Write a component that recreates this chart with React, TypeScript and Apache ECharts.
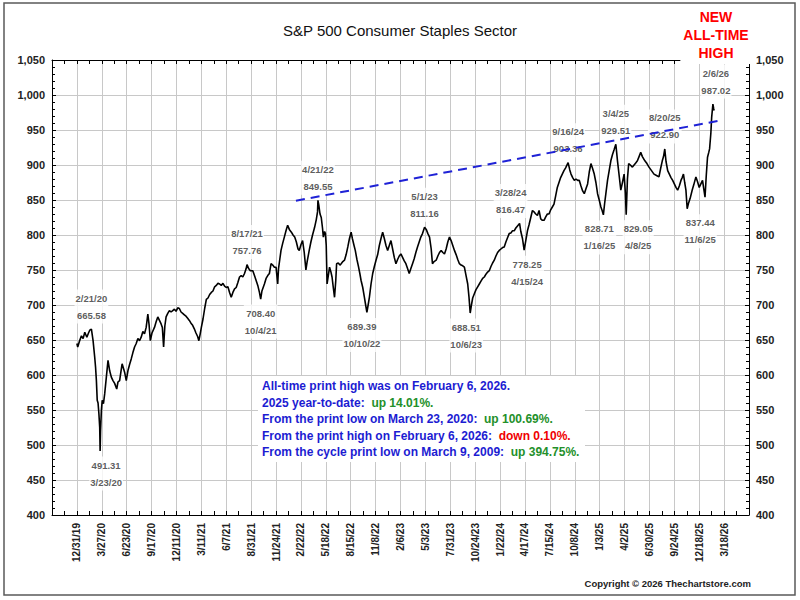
import { useEffect, useRef } from 'react'
import * as echarts from 'echarts'

const FONT = 'Arial, "Liberation Sans", Helvetica, sans-serif'

// one label every 60 trading days, counted from 12/31/19
const tickLabels = [
  '12/31/19', '3/27/20', '6/23/20', '9/17/20', '12/11/20', '3/11/21', '6/7/21',
  '8/31/21', '11/24/21', '2/22/22', '5/18/22', '8/15/22', '11/8/22', '2/6/23',
  '5/3/23', '7/31/23', '10/24/23', '1/22/24', '4/17/24', '7/15/24', '10/8/24',
  '1/3/25', '4/2/25', '6/30/25', '9/24/25', '12/18/25', '3/18/26',
]

// trading-day index and close
const dayIndex = [
  0, 2, 6, 11, 15, 19, 24, 28, 31, 35, 39, 43, 45, 47, 48, 49, 51, 53, 55, 56, 57, 59, 61, 64, 67,
  71, 75, 79, 83, 87, 91, 96, 99, 103, 106, 109, 112, 115, 119, 123, 127, 131, 135, 139, 143, 147,
  151, 155, 159, 163, 167, 171, 174, 177, 181, 187, 191, 195, 199, 203, 206, 209, 212, 215, 219,
  223, 227, 231, 235, 239, 243, 247, 251, 255, 259, 263, 267, 271, 275, 279, 283, 287, 291, 294,
  297, 300, 304, 308, 312, 316, 320, 324, 328, 332, 336, 340, 344, 348, 352, 356, 360, 364, 368,
  372, 376, 380, 384, 388, 392, 396, 400, 404, 408, 410, 414, 418, 424, 428, 432, 436, 440, 443,
  446, 449, 452, 456, 460, 464, 468, 472, 476, 480, 484, 486, 489, 492, 496, 500, 504, 508, 512,
  517, 521, 525, 529, 533, 536, 540, 544, 548, 552, 555, 560, 564, 568, 573, 577, 580, 581, 583,
  586, 589, 592, 594, 597, 599, 601, 603, 606, 609, 612, 615, 618, 621, 624, 626, 630, 634, 637,
  641, 645, 649, 653, 657, 661, 664, 668, 671, 675, 679, 682, 685, 689, 693, 696, 699, 702, 705,
  709, 713, 717, 721, 725, 729, 733, 737, 741, 745, 749, 753, 757, 761, 765, 769, 773, 777, 781,
  785, 789, 793, 797, 801, 805, 809, 813, 817, 821, 825, 829, 833, 838, 842, 846, 850, 854, 857,
  861, 866, 870, 874, 878, 882, 886, 890, 894, 898, 902, 906, 910, 914, 918, 922, 926, 930, 934,
  938, 942, 945, 948, 951, 954, 958, 962, 966, 970, 974, 978, 982, 986, 990, 994, 998, 1002, 1006,
  1010, 1014, 1018, 1022, 1026, 1030, 1034, 1038, 1042, 1046, 1050, 1054, 1058, 1062, 1067, 1070,
  1074, 1078, 1082, 1086, 1090, 1094, 1098, 1102, 1106, 1110, 1114, 1118, 1122, 1126, 1130, 1134,
  1138, 1142, 1146, 1150, 1154, 1158, 1162, 1166, 1170, 1174, 1178, 1184, 1188, 1191, 1195, 1199,
  1203, 1207, 1211, 1215, 1219, 1223, 1227, 1231, 1235, 1239, 1243, 1247, 1251, 1255, 1259, 1263,
  1266, 1269, 1272, 1275, 1279, 1283, 1287, 1291, 1295, 1299, 1301, 1303, 1307, 1311, 1315, 1319,
  1322, 1324, 1327, 1330, 1334, 1339, 1343, 1347, 1351, 1355, 1359, 1363, 1369, 1374, 1379, 1385,
  1391, 1397, 1403, 1407, 1411, 1414, 1417, 1420, 1424, 1428, 1432, 1436, 1440, 1444, 1448, 1452,
  1456, 1459, 1462, 1465, 1468, 1471, 1474, 1478, 1483, 1487, 1492, 1496, 1500, 1504, 1508, 1511,
  1514, 1517, 1520, 1523, 1525, 1528, 1530, 1533, 1535, 1536,
]

const closes = [
  645, 640, 648, 656, 652, 661, 654, 660, 664, 665.58, 649, 625, 611, 592, 578, 564, 560, 545, 525,
  491.31, 520, 549, 564, 559, 573, 597, 621, 606, 597, 592, 588, 580, 590, 592, 604, 616, 610, 604,
  592, 606, 615, 623, 632, 640, 645, 652, 649, 654, 662, 659, 668, 687, 672, 649, 660, 668, 676, 683,
  678, 673, 668, 640, 670, 683, 688, 692, 690, 692, 694, 691, 696, 695, 690, 688, 686, 684, 681, 678,
  674, 671, 666, 660, 655, 649, 658, 668, 680, 695, 708, 710, 715, 718, 720, 726, 728, 731, 730, 728,
  731, 727, 725, 726, 718, 711, 718, 723, 725, 732, 740, 742, 740, 745, 752, 757.76, 752, 749, 749,
  742, 735, 728, 718, 708.4, 720, 725, 730, 738, 742, 745, 759, 757, 754, 754, 730, 752, 765, 778,
  788, 797, 806, 814, 808, 804, 800, 797, 790, 780, 778, 786, 792, 775, 750, 762, 778, 790, 800, 811,
  822, 833, 849.55, 843, 830, 825, 810, 797, 805, 802, 785, 730, 742, 754, 748, 740, 725, 711, 735,
  759, 760, 757, 759, 762, 764, 772, 783, 795, 804, 795, 785, 778, 765, 754, 745, 735, 725, 711, 700,
  689.39, 700, 711, 730, 745, 755, 764, 772, 785, 795, 804, 795, 785, 778, 785, 792, 780, 768, 759,
  765, 770, 773, 768, 763, 759, 752, 745, 752, 759, 766, 775, 783, 790, 797, 802, 811.16, 808, 802,
  797, 780, 759, 762, 764, 770, 775, 778, 775, 773, 780, 790, 797, 792, 785, 778, 772, 765, 759, 757,
  756, 754, 742, 730, 712, 688.51, 700, 710, 716, 722, 726, 730, 734, 738, 740, 744, 747, 749, 755,
  760, 764, 770, 775, 778, 780, 782, 783, 790, 796, 802, 803, 806, 806, 810, 813, 816.47, 805, 795,
  778.25, 792, 806, 815, 825, 835, 833, 830, 828, 835, 823, 821, 821, 826, 830, 830, 836, 840, 844,
  856, 868, 875, 882, 887, 892, 896, 903.36, 893, 887, 882, 878, 880, 878, 878, 870, 863, 859, 866,
  873, 890, 902, 895, 887, 875, 859, 850, 840, 835, 828.71, 845, 859, 878, 892, 906, 915, 922, 929.51,
  918, 906, 885, 864, 875, 887, 860, 829.05, 880, 902, 900, 897, 900, 903, 906, 912, 918, 912, 906,
  902, 897, 892, 887, 885, 883, 895, 906, 912, 922.9, 905, 892, 887, 882, 878, 873, 868, 864, 870,
  878, 882, 887, 875, 864, 837.44, 845, 852, 864, 872, 883, 876, 868, 873, 878, 866, 854, 885, 911,
  918, 923, 945, 968, 987.02, 980, 978,
]

// dashed resistance line from the 2022 high
const trendIndex = [528, 1555]
const trendValues = [849, 964]

// annotated highs and lows
const noteDays = [35, 56, 410, 443, 581, 699, 838, 948, 1067, 1078, 1184, 1269, 1299, 1324, 1417, 1471, 1533]
const noteDates = [
  '2/21/20', '3/23/20', '8/17/21', '10/4/21', '4/21/22', '10/10/22', '5/1/23', '10/6/23',
  '3/28/24', '4/15/24', '9/16/24', '1/16/25', '3/4/25', '4/8/25', '8/20/25', '11/6/25', '2/6/26',
]
const noteValues = [
  665.58, 491.31, 757.76, 708.4, 849.55, 689.39, 811.16, 688.51, 816.47, 778.25, 903.36, 828.71,
  929.51, 829.05, 922.9, 837.44, 987.02,
]
const noteAbove = [true, false, true, false, true, false, true, false, true, false, true, false, true, false, true, false, true]
const noteShiftX = [0, 6, 0, 0, 0, -5, 0, -4, -9, 3, 0, -4, 0, 12, 0, 13, 3]

export default function App() {
  const ref = useRef<HTMLDivElement>(null)

  useEffect(() => {
    document.body.style.margin = '0'
    if (!ref.current) return
    const chart = echarts.init(ref.current, undefined, { renderer: 'svg' })

    const priceData = dayIndex.map((d, i) => [d, closes[i]])
    const trendData = trendIndex.map((d, i) => [d, trendValues[i]])
    const noteData = noteDays.map((d, i) => ({
      value: [d, noteValues[i]],
      label: {
        position: noteAbove[i] ? 'top' : 'bottom',
        offset: [noteShiftX[i], 0],
        formatter: noteAbove[i]
          ? `${noteDates[i]}\n${noteValues[i].toFixed(2)}`
          : `${noteValues[i].toFixed(2)}\n${noteDates[i]}`,
      },
    }))

    const xCommon = {
      type: 'value',
      min: -60,
      max: 1620,
      interval: 60,
      axisLine: { show: true, onZero: false, lineStyle: { color: '#000', width: 1 } },
      axisTick: { show: true, inside: true, length: 4, lineStyle: { color: '#000' } },
      minorTick: { show: true, splitNumber: 2, length: 4, lineStyle: { color: '#000' } },
    }
    const yCommon = {
      type: 'value',
      min: 400,
      max: 1050,
      interval: 50,
      axisLine: { show: true, onZero: false, lineStyle: { color: '#000', width: 1 } },
      axisTick: { show: true, inside: true, length: 4, lineStyle: { color: '#000' } },
      minorTick: { show: true, splitNumber: 5, length: 3, lineStyle: { color: '#000' } },
      axisLabel: {
        color: '#222',
        fontFamily: FONT,
        fontSize: 11,
        fontWeight: 'bold',
        margin: 7,
        formatter: (v: number) => v.toLocaleString('en-US'),
      },
    }

    const boxLines = [
      '{b|All-time print high was on February 6, 2026.}',
      '{b|2025 year-to-date:  }{g|up 14.01%.}',
      '{b|From the print low on March 23, 2020:  }{g|up 100.69%.}',
      '{b|From the print high on February 6, 2026:  }{r|down 0.10%.}',
      '{b|From the cycle print low on March 9, 2009:  }{g|up 394.75%.}',
    ]

    chart.setOption({
      animation: false,
      backgroundColor: '#fff',
      grid: { left: 52, right: 51, top: 60, bottom: 85, outerBoundsMode: 'none' },
      xAxis: [
        {
          ...xCommon,
          position: 'bottom',
          splitLine: { show: true, lineStyle: { color: '#c8c8c8', width: 1 } },
          axisLabel: {
            rotate: 90,
            color: '#222',
            fontFamily: FONT,
            fontSize: 10,
            fontWeight: 'bold',
            margin: 8,
            formatter: (v: number) => tickLabels[v / 60] ?? '',
          },
        },
        { ...xCommon, position: 'top', splitLine: { show: false }, axisLabel: { show: false } },
      ],
      yAxis: [
        { ...yCommon, position: 'left', splitLine: { show: true, lineStyle: { color: '#c8c8c8', width: 1 } } },
        { ...yCommon, position: 'right', splitLine: { show: false } },
      ],
      series: [
        {
          type: 'scatter',
          data: noteData,
          symbolSize: 1,
          itemStyle: { color: 'rgba(0,0,0,0)' },
          silent: true,
          z: 3,
          label: {
            show: true,
            distance: 5,
            color: '#333',
            fontFamily: FONT,
            fontSize: 9.5,
            fontWeight: 'bold',
            lineHeight: 17,
            align: 'center',
            backgroundColor: '#fff',
            padding: [0, 1],
          },
        },
        {
          type: 'line',
          data: priceData,
          showSymbol: false,
          symbol: 'none',
          lineStyle: { color: '#000', width: 1.6 },
          z: 4,
        },
        {
          type: 'line',
          data: trendData,
          showSymbol: false,
          symbol: 'none',
          lineStyle: { color: '#1f22d6', width: 2, type: [9, 6] },
          z: 5,
        },
      ],
      graphic: [
        {
          type: 'rect',
          shape: { x: 4, y: 3, width: 791, height: 592 },
          style: { fill: 'none', stroke: '#5a5a5a', lineWidth: 1.5 },
          z: 1,
          silent: true,
        },
        {
          type: 'text',
          x: 400,
          y: 30,
          style: {
            text: 'S&P 500 Consumer Staples Sector',
            font: `15px ${FONT}`,
            fill: '#111',
            align: 'center',
            verticalAlign: 'middle',
          },
        },
        {
          type: 'text',
          x: 716,
          y: 8,
          z: 100,
          style: {
            text: 'NEW\nALL-TIME\nHIGH',
            font: `bold 14px ${FONT}`,
            lineHeight: 18,
            fill: '#ff0000',
            align: 'center',
            verticalAlign: 'top',
            backgroundColor: '#fff',
            padding: [0, 3, 2, 3],
          },
        },
        {
          type: 'rect',
          z: 60,
          shape: { x: 258, y: 376, width: 327, height: 86 },
          style: { fill: '#fff' },
          silent: true,
        },
        {
          type: 'text',
          z: 61,
          x: 262,
          y: 378,
          style: {
            text: boxLines.join('\n'),
            font: `bold 12px ${FONT}`,
            lineHeight: 16.5,
            rich: {
              b: { fill: '#1c1cd2', font: `bold 12px ${FONT}`, lineHeight: 16.5 },
              g: { fill: '#23902a', font: `bold 12px ${FONT}`, lineHeight: 16.5 },
              r: { fill: '#f00000', font: `bold 12px ${FONT}`, lineHeight: 16.5 },
            },
          },
        },
        {
          type: 'text',
          x: 751,
          y: 583,
          style: {
            text: 'Copyright © 2026 Thechartstore.com',
            font: `bold 9.5px ${FONT}`,
            fill: '#222',
            align: 'right',
            verticalAlign: 'middle',
          },
        },
      ],
    })

    return () => chart.dispose()
  }, [])

  return <div ref={ref} style={{ width: 800, height: 600 }} />
}
